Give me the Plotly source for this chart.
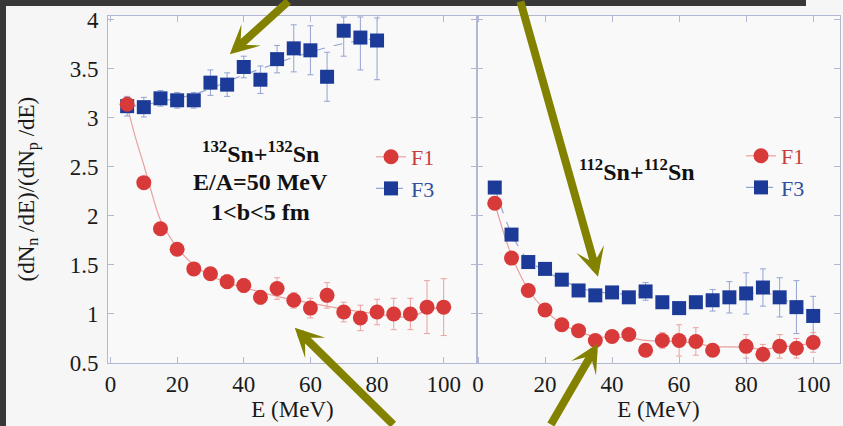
import plotly.graph_objects as go

# ---------------- data ----------------
# Left panel: 132Sn+132Sn
E_L_F1 = [5, 10, 15, 20, 25, 30, 35, 40, 45, 50, 55, 60, 65, 70, 75, 80, 85, 90, 95, 100]
L_F1 = [3.14, 2.34, 1.87, 1.66, 1.46, 1.41, 1.33, 1.29, 1.17, 1.26, 1.14, 1.06, 1.19, 1.02, 0.96, 1.02, 1.00, 1.00, 1.07, 1.07]
L_F1_err = [0.05, 0.05, 0.05, 0.05, 0.05, 0.06, 0.07, 0.07, 0.07, 0.11, 0.08, 0.10, 0.13, 0.10, 0.13, 0.13, 0.16, 0.16, 0.27, 0.29]

E_L_F3 = [5, 10, 15, 20, 25, 30, 35, 40, 45, 50, 55, 60, 65, 70, 75, 80]
L_F3 = [3.12, 3.11, 3.20, 3.18, 3.18, 3.36, 3.34, 3.52, 3.39, 3.60, 3.71, 3.69, 3.42, 3.89, 3.82, 3.79]
L_F3_err_up = [0.10, 0.10, 0.08, 0.08, 0.08, 0.13, 0.12, 0.11, 0.14, 0.14, 0.24, 0.25, 0.25, 0.14, 0.21, 0.23]
L_F3_err_down = [0.10, 0.10, 0.08, 0.08, 0.08, 0.13, 0.12, 0.11, 0.14, 0.14, 0.24, 0.25, 0.25, 0.26, 0.33, 0.40]

# fit curves
E_L_F1_fit = [5, 7.5, 10, 12.5, 15, 20, 25, 30, 35, 40, 50, 60, 70, 80, 90, 95, 100]
L_F1_fit = [3.12, 2.80, 2.52, 2.22, 1.96, 1.68, 1.50, 1.39, 1.32, 1.27, 1.18, 1.11, 1.05, 1.00, 0.97, 1.04, 1.07]
E_L_F3_fit = [5, 10, 15, 20, 25, 30, 35, 40, 45, 50, 55, 60, 65, 70, 75, 80]
L_F3_fit = [3.12, 3.13, 3.17, 3.20, 3.24, 3.30, 3.37, 3.44, 3.50, 3.56, 3.62, 3.67, 3.72, 3.76, 3.79, 3.81]

# Right panel: 112Sn+112Sn
E_R_F1 = [5, 10, 15, 20, 25, 30, 35, 40, 45, 50, 55, 60, 65, 70, 80, 85, 90, 95, 100]
R_F1 = [2.13, 1.57, 1.24, 1.04, 0.89, 0.83, 0.73, 0.77, 0.79, 0.63, 0.73, 0.73, 0.72, 0.63, 0.67, 0.59, 0.67, 0.65, 0.71]
R_F1_err = [0.05, 0.05, 0.05, 0.05, 0.05, 0.05, 0.06, 0.06, 0.06, 0.06, 0.08, 0.16, 0.14, 0.06, 0.12, 0.10, 0.12, 0.10, 0.10]

E_R_F3 = [5, 10, 15, 20, 25, 30, 35, 40, 45, 50, 55, 60, 65, 70, 75, 80, 85, 90, 95, 100]
R_F3 = [2.29, 1.81, 1.53, 1.46, 1.35, 1.24, 1.19, 1.22, 1.17, 1.23, 1.12, 1.06, 1.12, 1.14, 1.17, 1.21, 1.27, 1.17, 1.07, 0.98]
R_F3_err = [0.05, 0.05, 0.05, 0.05, 0.05, 0.05, 0.05, 0.05, 0.05, 0.09, 0.06, 0.06, 0.06, 0.11, 0.16, 0.21, 0.19, 0.20, 0.27, 0.20]

E_R_F1_fit = [5, 10, 15, 20, 25, 30, 35, 40, 45, 50, 55, 60, 65, 70, 80, 85, 90, 100]
R_F1_fit = [2.13, 1.60, 1.25, 1.04, 0.90, 0.82, 0.77, 0.76, 0.76, 0.73, 0.72, 0.72, 0.70, 0.67, 0.66, 0.64, 0.66, 0.70]
E_R_F3_fit = [5, 10, 15, 20, 25, 30, 35, 40, 45, 50, 55, 60, 65, 70, 75, 80, 85, 90, 95, 100]
R_F3_fit = [2.29, 1.82, 1.55, 1.44, 1.35, 1.27, 1.23, 1.21, 1.20, 1.19, 1.15, 1.12, 1.12, 1.14, 1.17, 1.20, 1.22, 1.17, 1.08, 0.99]

x_ticks = [0, 20, 40, 60, 80, 100]
y_ticks = [0.5, 1, 1.5, 2, 2.5, 3, 3.5, 4]

# ---------------- style ----------------
RED = "#d83a3a"
BLUE = "#1c3b98"
RED_LIGHT = "#eaa0a0"
BLUE_LIGHT = "#93a3d2"
AXIS = "#b3b8d2"
OLIVE = "#828200"
FONT = "Liberation Serif"
W, H = 843, 426
ML, MR, MT, MB = 108, 3, 16, 63
PW, PH = W - ML - MR, H - MT - MB
split = (477 - ML) / PW

fig = go.Figure()

def add_panel(xa, ya, e1, f1, f1e_up, f1e_dn, e3, f3, f3e_up, f3e_dn, ef1, ff1, ef3, ff3, leg):
    fig.add_trace(go.Scatter(x=ef1, y=ff1, mode="lines", line=dict(color=RED_LIGHT, width=1.2, shape="spline"),
                             xaxis=xa, yaxis=ya, showlegend=False, hoverinfo="skip"))
    fig.add_trace(go.Scatter(x=ef3, y=ff3, mode="lines", line=dict(color=BLUE_LIGHT, width=1.2, dash="dash", shape="spline"),
                             xaxis=xa, yaxis=ya, showlegend=False, hoverinfo="skip"))
    fig.add_trace(go.Scatter(x=e3, y=f3, mode="markers",
                             marker=dict(symbol="square", size=14, color=BLUE),
                             error_y=dict(type="data", array=f3e_up, arrayminus=f3e_dn, symmetric=False,
                                          color=BLUE_LIGHT, thickness=1, width=3),
                             xaxis=xa, yaxis=ya, showlegend=False))
    fig.add_trace(go.Scatter(x=e1, y=f1, mode="markers",
                             marker=dict(symbol="circle", size=15, color=RED),
                             error_y=dict(type="data", array=f1e_up, arrayminus=f1e_dn, symmetric=False,
                                          color=RED_LIGHT, thickness=1, width=3),
                             xaxis=xa, yaxis=ya, showlegend=False))
    # legend entries
    fig.add_trace(go.Scatter(x=[None], y=[None], mode="lines+markers", name="<span style='color:#c83c3c'>F1</span>",
                             marker=dict(symbol="circle", size=15, color=RED),
                             line=dict(color=RED_LIGHT, width=1.2), xaxis=xa, yaxis=ya, legend=leg))
    fig.add_trace(go.Scatter(x=[None], y=[None], mode="lines+markers", name="<span style='color:#2f4f9f'>F3</span>",
                             marker=dict(symbol="square", size=14, color=BLUE),
                             line=dict(color=BLUE_LIGHT, width=1.2, dash="dash"), xaxis=xa, yaxis=ya, legend=leg))

add_panel("x", "y", E_L_F1, L_F1, L_F1_err, L_F1_err, E_L_F3, L_F3, L_F3_err_up, L_F3_err_down,
          E_L_F1_fit, L_F1_fit, E_L_F3_fit, L_F3_fit, "legend")
add_panel("x2", "y2", E_R_F1, R_F1, R_F1_err, R_F1_err, E_R_F3, R_F3, R_F3_err, R_F3_err,
          E_R_F1_fit, R_F1_fit, E_R_F3_fit, R_F3_fit, "legend2")

TICKFONT = dict(family=FONT, size=23, color="#1a1a1a")
axis_common = dict(showline=True, linecolor=AXIS, linewidth=1, mirror="ticks", ticks="inside",
                   ticklen=6, tickcolor=AXIS, showgrid=False, zeroline=False, tickfont=TICKFONT)

fig.update_layout(
    width=W, height=H,
    margin=dict(l=ML, r=MR, t=MT, b=MB),
    paper_bgcolor="#f6f6f6", plot_bgcolor="#f9f9f9",
    font=dict(family=FONT, size=22, color="#1a1a1a"),
    xaxis=dict(domain=[0, split], range=[-0.75, 110], tickvals=x_ticks,
               title=dict(text="E (MeV)", font=dict(family=FONT, size=23), standoff=4), **axis_common),
    yaxis=dict(domain=[0, 1], range=[0.5, 4.04], tickvals=y_ticks, ticklabelstandoff=4, **axis_common),
    xaxis2=dict(domain=[split, 1], range=[-0.3, 108], tickvals=x_ticks, anchor="y2",
                title=dict(text="E (MeV)", font=dict(family=FONT, size=23), standoff=4), **axis_common),
    yaxis2=dict(domain=[0, 1], range=[0.5, 4.04], tickvals=y_ticks, anchor="x2", showticklabels=False,
                **axis_common),
    legend=dict(x=(371 - ML) / PW, y=1 - (136 - MT) / PH, xanchor="left", yanchor="top",
                bgcolor="rgba(0,0,0,0)", font=dict(family=FONT, size=22), tracegroupgap=0, itemwidth=30),
    legend2=dict(x=(741 - ML) / PW, y=1 - (135 - MT) / PH, xanchor="left", yanchor="top",
                 bgcolor="rgba(0,0,0,0)", font=dict(family=FONT, size=22), tracegroupgap=0, itemwidth=30),
    showlegend=True,
)

# text labels inside panels
ANN = dict(family=FONT, size=24, color="#111")
fig.add_annotation(x=45, y=2.65, xref="x", yref="y", showarrow=False,
                   text="<b><sup>132</sup>Sn+<sup>132</sup>Sn</b>", font=ANN)
fig.add_annotation(x=45, y=2.35, xref="x", yref="y", showarrow=False,
                   text="<b>E/A=50 MeV</b>", font=ANN)
fig.add_annotation(x=45, y=2.04, xref="x", yref="y", showarrow=False,
                   text="<b>1&lt;b&lt;5 fm</b>", font=ANN)
fig.add_annotation(x=47.5, y=2.47, xref="x2", yref="y2", showarrow=False,
                   text="<b><sup>112</sup>Sn+<sup>112</sup>Sn</b>", font=ANN)

# y-axis title
fig.add_annotation(x=(28 - ML) / PW, y=0.5, xref="paper", yref="paper", xanchor="center", yanchor="middle",
                   showarrow=False, textangle=-90,
                   text="(dN<sub>n</sub> /dE)/(dN<sub>p</sub> /dE)", font=dict(family=FONT, size=23, color="#1a1a1a"))

# dark frame strips (scan border)
def px_x(p):
    return (p - ML) / PW

def px_y(p):
    return 1 - (p - MT) / PH

fig.add_shape(type="rect", xref="paper", yref="paper", x0=px_x(0), x1=px_x(806), y0=px_y(6), y1=px_y(0),
              fillcolor="#383838", line=dict(width=0), layer="above")
fig.add_shape(type="rect", xref="paper", yref="paper", x0=px_x(0), x1=px_x(6), y0=px_y(426), y1=px_y(0),
              fillcolor="#383838", line=dict(width=0), layer="above")

# olive arrows
arrows = [
    dict(x=35.8, y=3.65, xref="x", yref="y", ax=60, ay=-61),
    dict(x=35.8, y=1.38, xref="x2", yref="y2", ax=-78, ay=-285),
    dict(x=55.3, y=0.86, xref="x", yref="y", ax=100, ay=106),
    dict(x=35.8, y=0.70, xref="x2", yref="y2", ax=-48, ay=93),
]
for a in arrows:
    fig.add_annotation(text="", showarrow=True, arrowhead=3, arrowsize=0.6, arrowwidth=8,
                       arrowcolor=OLIVE, **a)

fig.write_html("out.html")
